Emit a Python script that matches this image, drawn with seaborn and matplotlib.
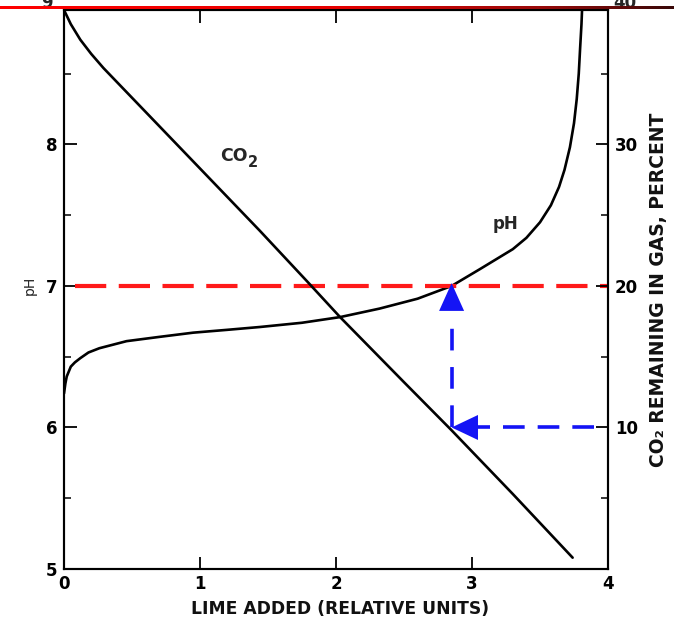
import matplotlib
matplotlib.use("Agg")
import matplotlib.pyplot as plt
import numpy as np
import pandas as pd
import seaborn as sns
from matplotlib.colors import LinearSegmentedColormap

# ---------------- data ----------------
lime_ph = [0.00, 0.01, 0.02, 0.05, 0.08, 0.12, 0.18, 0.26, 0.46, 0.70, 0.95, 1.20, 1.44,
           1.75, 2.03, 2.32, 2.60, 2.85, 3.06, 3.30, 3.40, 3.50, 3.58, 3.64, 3.68, 3.72,
           3.75, 3.77, 3.785, 3.795, 3.805, 3.81]
ph_values = [6.24, 6.31, 6.36, 6.43, 6.46, 6.49, 6.53, 6.56, 6.61, 6.64, 6.67, 6.69, 6.71,
             6.74, 6.78, 6.84, 6.91, 7.00, 7.12, 7.26, 7.34, 7.45, 7.57, 7.70, 7.82, 7.98,
             8.15, 8.32, 8.50, 8.68, 8.85, 8.97]

lime_co2 = [0.00, 0.05, 0.12, 0.20, 0.29, 0.46, 0.71, 0.95, 1.20, 1.44, 1.79, 2.03,
            2.50, 2.85, 3.30, 3.74]
co2_values = [39.5, 38.5, 37.4, 36.4, 35.4, 33.7, 31.2, 28.8, 26.3, 23.9, 20.3, 17.8,
              13.2, 9.8, 5.3, 0.8]

target_ph = 7.0
co2_level = 10.0
lime_at_target = 2.85

x_ticks = [0, 1, 2, 3, 4]
ph_ticks = [5, 6, 7, 8]
co2_ticks = [10, 20, 30]

x_label = "LIME ADDED (RELATIVE UNITS)"
ph_label = "pH"
co2_label = "CO\u2082 REMAINING IN GAS, PERCENT"

# ---------------- style ----------------
sns.set_theme(style="white")
plt.rcParams["font.family"] = ["DejaVu Sans"]
plt.rcParams["axes.linewidth"] = 1.5

W, H = 674, 624
fig = plt.figure(figsize=(W / 100, H / 100), dpi=100)
fig.patch.set_facecolor("white")

ax_l, ax_r, ax_b, ax_t = 64, 608, 569, 10
ax = fig.add_axes([ax_l / W, (H - ax_b) / H, (ax_r - ax_l) / W, (ax_b - ax_t) / H])
ax.set_facecolor("white")
ax.set_xlim(0, 4)
ax.set_ylim(5, 8.95)
ax2 = ax.twinx()
ax2.set_ylim(0, 39.5)

for a in (ax, ax2):
    for s in a.spines.values():
        s.set_color("black")
        s.set_linewidth(1.5)

# curves
df_ph = pd.DataFrame({"lime": lime_ph, "ph": ph_values})
df_co2 = pd.DataFrame({"lime": lime_co2, "co2": co2_values})
sns.lineplot(data=df_ph, x="lime", y="ph", ax=ax, color="black", lw=1.9,
             sort=False, estimator=None)
sns.lineplot(data=df_co2, x="lime", y="co2", ax=ax2, color="black", lw=1.9,
             sort=False, estimator=None)

# red dashed line at target pH
ax.plot([0.08, 4], [target_ph, target_ph], color="#ff1a1a", lw=3.0,
        dashes=(7.5, 3.0), solid_capstyle="butt", dash_capstyle="butt", zorder=3)

# blue dashed guide lines (on CO2 axis)
ph_in_co2 = ax2.transData.inverted().transform(ax.transData.transform((0, target_ph)))[1]
blue = "#1414f5"
head_len_co2 = 2.0
head_len_x = 0.19
ax2.plot([3.9, lime_at_target + head_len_x], [co2_level, co2_level], color=blue,
         lw=2.6, dashes=(6.0, 3.6), dash_capstyle="butt", zorder=3)
ax2.plot([lime_at_target, lime_at_target], [co2_level, ph_in_co2 - head_len_co2],
         color=blue, lw=2.6, dashes=(6.0, 4.6), dash_capstyle="butt", zorder=3)
ax2.annotate("", xy=(lime_at_target, ph_in_co2 + 0.2),
             xytext=(lime_at_target, ph_in_co2 - 6),
             arrowprops=dict(arrowstyle="-|>,head_length=1.0,head_width=0.45",
                             mutation_scale=20, color=blue, lw=0,
                             shrinkA=0, shrinkB=0), zorder=4)
ax2.annotate("", xy=(lime_at_target, co2_level),
             xytext=(lime_at_target + 0.6, co2_level),
             arrowprops=dict(arrowstyle="-|>,head_length=0.95,head_width=0.45",
                             mutation_scale=20, color=blue, lw=0,
                             shrinkA=0, shrinkB=0), zorder=4)

# ticks
ax.set_xticks(x_ticks)
ax.set_xticklabels([str(t) for t in x_ticks])
ax.set_yticks(ph_ticks)
ax.set_yticklabels([str(t) for t in ph_ticks])
ax.set_yticks(np.arange(5.5, 9.0, 1.0), minor=True)
ax2.set_yticks(co2_ticks)
ax2.set_yticklabels([str(t) for t in co2_ticks])
ax2.set_yticks([5, 15, 25, 35], minor=True)

ax.tick_params(axis="x", which="major", direction="in", length=9, width=1.3,
               top=True, bottom=True, labelsize=12, pad=4, colors="black")
ax.tick_params(axis="y", which="major", direction="in", length=9, width=1.3,
               left=True, right=False, labelsize=12, pad=5, colors="black")
ax.tick_params(axis="y", which="minor", direction="in", length=5, width=1.3,
               left=True, right=False)
ax2.tick_params(axis="y", which="major", direction="in", length=9, width=1.3,
                right=True, left=False, labelsize=12, pad=5, colors="black")
ax2.tick_params(axis="y", which="minor", direction="in", length=5, width=1.3,
                right=True, left=False)
for lab in ax.get_xticklabels() + ax.get_yticklabels() + ax2.get_yticklabels():
    lab.set_fontweight("bold")

# partially visible top labels (cut off by the figure edge, as in the source)
ax.text(-0.125, 9.0, "9", ha="center", va="center", fontsize=12,
        fontweight="bold", clip_on=False)
ax2.text(4.125, 40.0, "40", ha="center", va="center", fontsize=12,
         fontweight="bold", clip_on=False)

# axis labels
ax.set_xlabel(x_label, fontsize=12.3, fontweight="bold", color="#111111")
ax.xaxis.set_label_coords(0.507, -0.055)
ax.set_ylabel(ph_label, fontsize=10, color="#222222")
ax.yaxis.set_label_coords(-0.05, 0.507)
ax2.set_ylabel(co2_label, fontsize=13.5, fontweight="bold", color="#111111",
               rotation=90)
ax2.yaxis.set_label_coords(1.075, 0.5)

# curve labels
ax.text(1.15, 7.92, "CO", fontsize=12.5, fontweight="bold", ha="left", va="center")
ax.annotate("2", xy=(1.15, 7.92), xytext=(20.0, -5), textcoords="offset points",
            fontsize=10.5, fontweight="bold", ha="left", va="center")
ax.text(3.15, 7.44, "pH", fontsize=12, fontweight="bold", ha="left", va="center")

# red gradient rule at the very top of the image
cmap = LinearSegmentedColormap.from_list("rule", [(0, "#ff0000"), (0.5, "#e60000"),
                                                  (0.8, "#9a0a0a"), (1, "#3a0808")])
grad = cmap(np.linspace(0, 1, W))[:, :3]
rule = np.repeat(grad[np.newaxis, :, :], 3, axis=0)
fig.figimage(rule, xo=0, yo=H - 9, origin="upper", zorder=10)

fig.savefig("out.png", dpi=100, facecolor="white")
